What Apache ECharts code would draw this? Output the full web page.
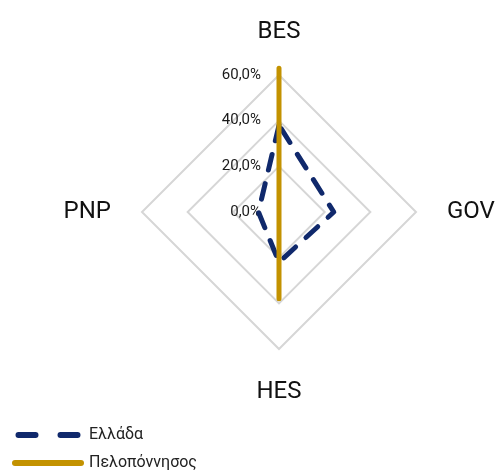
<!DOCTYPE html>
<html>
<head>
<meta charset="utf-8">
<script src="https://cdn.jsdelivr.net/npm/echarts@6/dist/echarts.min.js"></script>
<style>html,body{margin:0;padding:0;background:#fff}#c{width:496px;height:473px}</style>
</head>
<body>
<div id="c"></div>
<script>
// Indicators in ECharts order (counter-clockwise from top)
const indicators = ['BES', 'PNP', 'HES', 'GOV'];
const axisMax = 60;
const seriesNames = ['Ελλάδα', 'Πελοπόννησος'];
const greece = [38, 9, 22, 24];
const peloponnisos = [63, 0, 38, 0];

const chart = echarts.init(document.getElementById('c'));
const FONT = 'Roboto, "DejaVu Sans", sans-serif';
chart.setOption({
  animation: false,
  legend: {
    orient: 'vertical',
    left: 12,
    top: 425,
    height: 48,
    itemGap: 8,
    itemWidth: 72,
    itemHeight: 6,
    padding: 0,
    textStyle: { fontFamily: FONT, fontSize: 16, color: '#222', lineHeight: 20 },
    data: [
      { name: seriesNames[0], icon: 'path://M3,0h17a3,3 0 0 1 0,6h-17a3,3 0 0 1 0,-6z M45,0h17a3,3 0 0 1 0,6h-17a3,3 0 0 1 0,-6z' },
      { name: seriesNames[1], icon: 'path://M3,0h66a3,3 0 0 1 0,6h-66a3,3 0 0 1 0,-6z' }
    ]
  },
  radar: {
    center: [279, 212],
    radius: 137,
    startAngle: 90,
    shape: 'polygon',
    splitNumber: 3,
    nameGap: 31,
    axisName: { color: '#111', fontFamily: FONT, fontSize: 24 },
    axisLine: { show: false },
    axisTick: { show: false },
    splitArea: { show: false },
    splitLine: { lineStyle: { color: '#d6d6d6', width: 2 } },
    axisLabel: { show: false },
    indicator: indicators.map((n, i) => {
      const o = { name: n, min: 0, max: axisMax };
      if (i === 0) {
        o.axisLabel = {
          show: true, margin: 18, fontFamily: FONT, fontSize: 15, color: '#1a1a1a',
          formatter: v => v.toFixed(1).replace('.', ',') + '%'
        };
      }
      return o;
    })
  },
  series: [{
    type: 'radar',
    symbol: 'none',
    data: [
      { name: seriesNames[0], value: greece,
        itemStyle: { color: '#10296c' },
        lineStyle: { color: '#10296c', width: 5, type: [16, 14], cap: 'round' } },
      { name: seriesNames[1], value: peloponnisos,
        itemStyle: { color: '#c39200' },
        lineStyle: { color: '#c39200', width: 5, cap: 'round' } }
    ]
  }]
});
</script>
</body>
</html>
